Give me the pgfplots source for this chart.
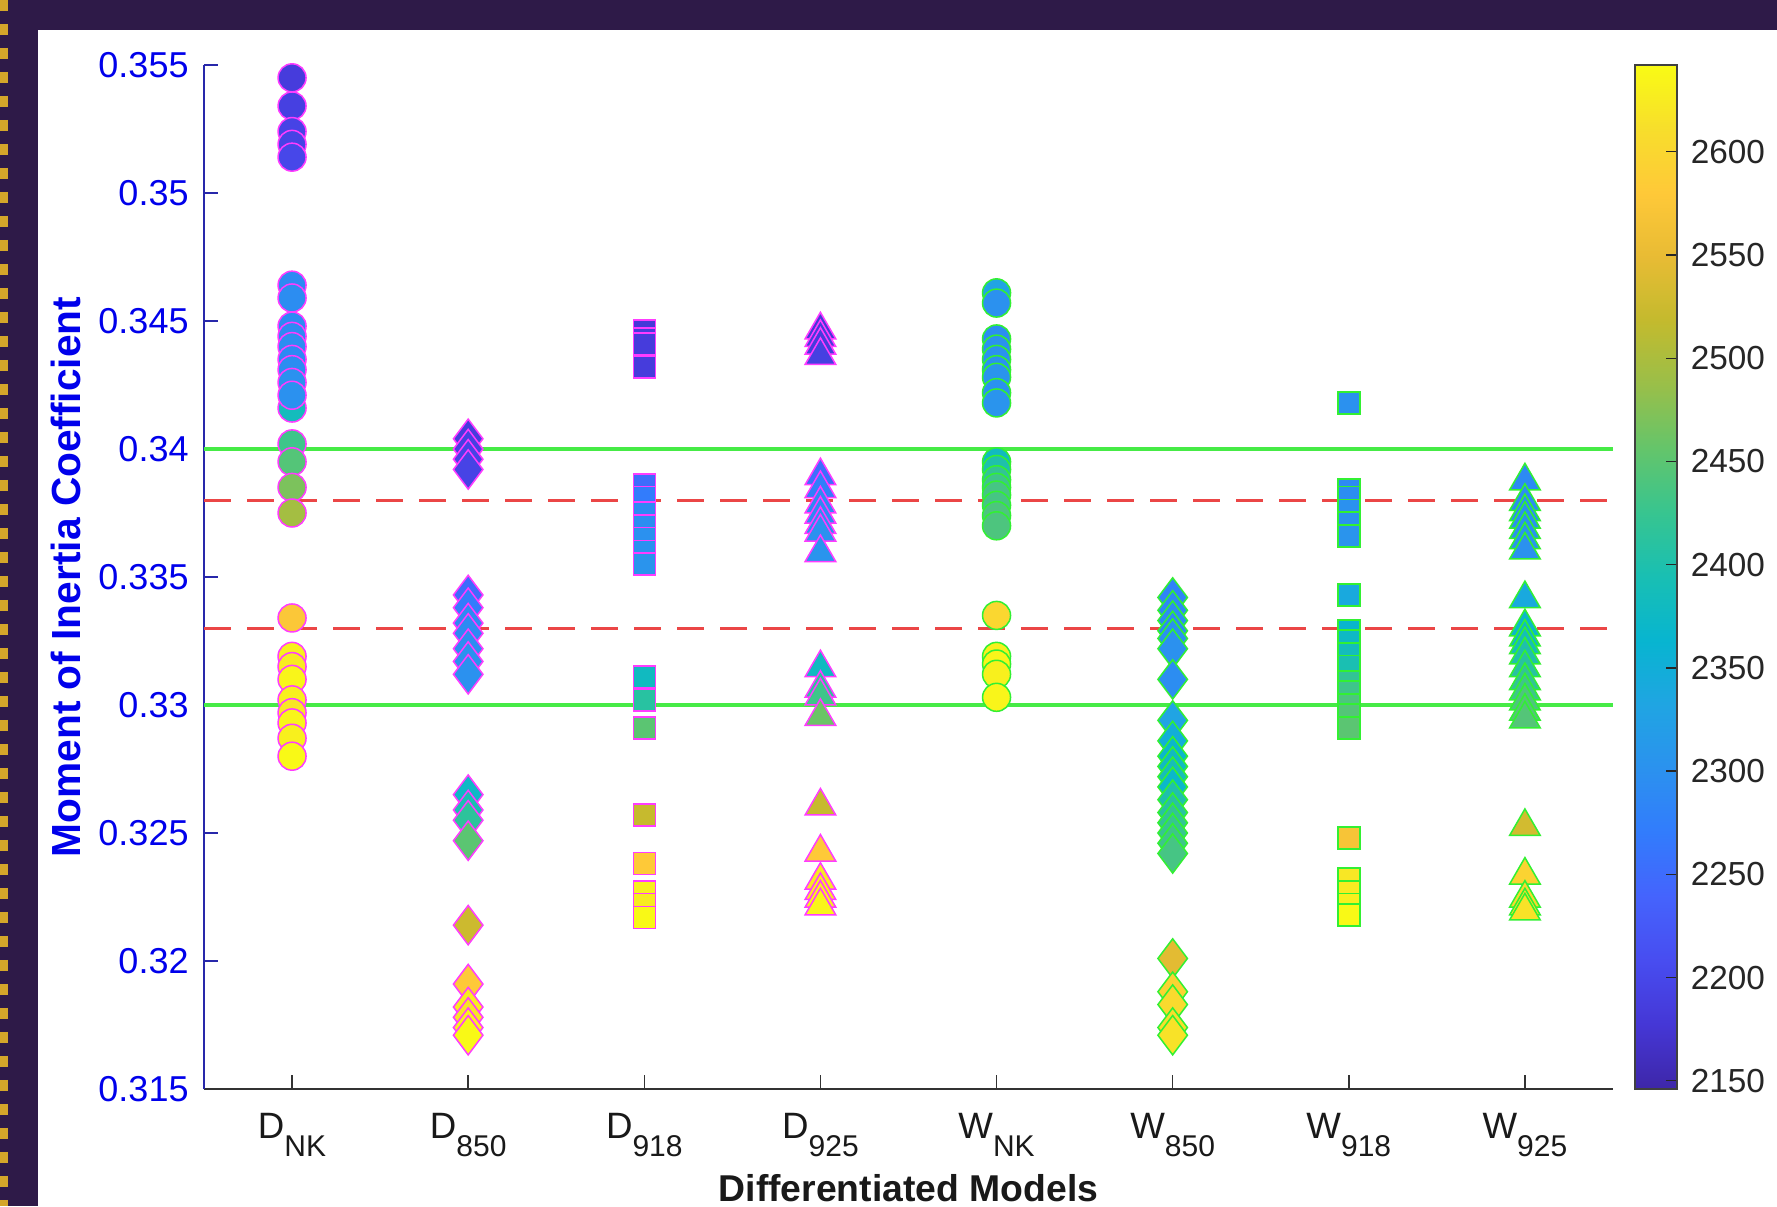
\documentclass[border=0pt]{standalone}
\usepackage{pgfplots}
\pgfplotsset{compat=1.18}
\usepackage{pgfplotstable}
\usepackage{fontspec}
\setmainfont{Liberation Sans}

\definecolor{bgpurple}{RGB}{46,26,72}
\definecolor{dashyellow}{RGB}{212,166,42}
\definecolor{tickblue}{RGB}{0,0,235}
\definecolor{axisblue}{RGB}{40,40,170}
\definecolor{edgemag}{RGB}{255,60,255}
\definecolor{edgegrn}{RGB}{50,240,50}
\definecolor{limeline}{RGB}{70,235,70}
\definecolor{redline}{RGB}{235,70,70}

\newcommand{\sublab}[2]{#1\raisebox{-5.4pt}{\fontsize{9}{9}\selectfont #2}}

\pgfplotstableread{
x y c
0 0.3545 2185
0 0.3534 2190
0 0.3524 2195
0 0.3519 2195
0 0.3514 2200
0 0.3416 2385
0 0.3464 2290
0 0.3459 2295
0 0.3448 2290
0 0.3444 2290
0 0.3440 2295
0 0.3435 2290
0 0.3431 2295
0 0.3426 2300
0 0.3421 2300
0 0.3402 2430
0 0.3395 2445
0 0.3385 2470
0 0.3375 2495
0 0.3334 2575
0 0.3319 2630
0 0.3315 2625
0 0.3310 2635
0 0.3302 2630
0 0.3297 2620
0 0.3293 2635
0 0.3287 2630
0 0.3280 2640
}\dNK

\pgfplotstableread{
x y c
1 0.3404 2185
1 0.3400 2190
1 0.3396 2195
1 0.3392 2195
1 0.3343 2250
1 0.3338 2270
1 0.3332 2290
1 0.3328 2290
1 0.3322 2295
1 0.3317 2300
1 0.3312 2300
1 0.3265 2375
1 0.3259 2395
1 0.3255 2415
1 0.3247 2450
1 0.3214 2525
1 0.3191 2580
1 0.3182 2625
1 0.3178 2615
1 0.3174 2630
1 0.3171 2640
}\dEightFifty

\pgfplotstableread{
x y c
2 0.3446 2180
2 0.3443 2185
2 0.3441 2185
2 0.3432 2185
2 0.3386 2250
2 0.3381 2270
2 0.3375 2290
2 0.3370 2295
2 0.3365 2300
2 0.3360 2300
2 0.3355 2305
2 0.3311 2380
2 0.3302 2410
2 0.3291 2450
2 0.3257 2520
2 0.3238 2580
2 0.3227 2630
2 0.3222 2625
2 0.3217 2640
}\dNineEighteen

\pgfplotstableread{
x y c
3 0.34465 2180
3 0.34435 2185
3 0.34405 2185
3 0.34365 2190
3 0.33895 2255
3 0.33845 2275
3 0.33785 2290
3 0.33745 2290
3 0.33705 2295
3 0.33675 2300
3 0.33595 2305
3 0.33145 2380
3 0.33065 2415
3 0.33035 2430
3 0.32955 2460
3 0.32605 2520
3 0.32425 2580
3 0.32315 2620
3 0.32275 2625
3 0.32245 2630
3 0.32215 2635
}\dNineTwentyFive

\pgfplotstableread{
x y c
4 0.3461 2330
4 0.3457 2300
4 0.3443 2295
4 0.3439 2300
4 0.3435 2300
4 0.3431 2300
4 0.3428 2305
4 0.3422 2300
4 0.3418 2305
4 0.3395 2380
4 0.3392 2400
4 0.3388 2420
4 0.3385 2430
4 0.3382 2435
4 0.3378 2435
4 0.3374 2440
4 0.3370 2440
4 0.3335 2600
4 0.3319 2630
4 0.3316 2635
4 0.3312 2630
4 0.3303 2635
}\wNK

\pgfplotstableread{
x y c
5 0.3342 2280
5 0.3337 2290
5 0.3333 2295
5 0.3329 2290
5 0.3326 2300
5 0.3322 2300
5 0.3310 2295
5 0.3294 2330
5 0.3286 2350
5 0.3280 2370
5 0.3276 2380
5 0.3272 2390
5 0.3268 2370
5 0.3263 2400
5 0.3258 2410
5 0.3254 2420
5 0.3250 2425
5 0.3246 2430
5 0.3242 2435
5 0.3201 2545
5 0.3188 2595
5 0.3183 2605
5 0.3174 2610
5 0.3171 2615
}\wEightFifty

\pgfplotstableread{
x y c
6 0.3418 2300
6 0.3384 2290
6 0.3381 2295
6 0.3376 2300
6 0.3371 2300
6 0.3366 2305
6 0.3343 2340
6 0.3329 2365
6 0.3325 2375
6 0.3320 2385
6 0.3315 2395
6 0.3309 2420
6 0.3305 2430
6 0.3300 2440
6 0.3296 2445
6 0.3291 2450
6 0.3248 2570
6 0.3232 2620
6 0.3227 2625
6 0.3222 2630
6 0.3218 2640
}\wNineEighteen

\pgfplotstableread{
x y c
7 0.33875 2290
7 0.33795 2295
7 0.33755 2300
7 0.33725 2300
7 0.33685 2300
7 0.33645 2305
7 0.33605 2300
7 0.33415 2340
7 0.33305 2370
7 0.33265 2380
7 0.33235 2390
7 0.33195 2400
7 0.33145 2410
7 0.33095 2420
7 0.33055 2430
7 0.33015 2440
7 0.32975 2445
7 0.32945 2445
7 0.32525 2530
7 0.32335 2595
7 0.32245 2605
7 0.32215 2610
7 0.32195 2615
}\wNineTwentyFive

\begin{document}
\begin{tikzpicture}
\useasboundingbox (0,0) rectangle (533.1pt,361.8pt);
\fill[bgpurple] (0,0) rectangle (533.1pt,361.8pt);
\fill[white] (11.5pt,0) rectangle (533.1pt,352.8pt);
\draw[dashyellow, line width=2.3pt, dash pattern=on 3.2pt off 4pt] (1.15pt,361.8pt) -- (1.15pt,0pt);
\begin{axis}[
  at={(61.2pt,35.1pt)}, anchor=south west,
  scale only axis, width=422.7pt, height=307.2pt,
  xmin=-0.5, xmax=7.5, ymin=0.315, ymax=0.355,
  clip=false,
  axis x line*=bottom, axis y line*=left,
  x axis line style={draw=black!80, line width=0.45pt},
  y axis line style={draw=axisblue, line width=0.5pt},
  xtick={0,1,2,3,4,5,6,7},
  xticklabels={\sublab{D}{NK},\sublab{D}{850},\sublab{D}{918},\sublab{D}{925},\sublab{W}{NK},\sublab{W}{850},\sublab{W}{918},\sublab{W}{925}},
  ytick={0.315,0.32,0.325,0.33,0.335,0.34,0.345,0.35,0.355},
  yticklabels={0.315,0.32,0.325,0.33,0.335,0.34,0.345,0.35,0.355},
  tick align=inside, major tick length=4.2pt,
  xtick style={draw=black!80, line width=0.45pt},
  ytick style={draw=axisblue, line width=0.45pt},
  xticklabel style={font=\fontsize{11}{13}\selectfont, text=black!90, yshift=-3.8pt},
  yticklabel style={font=\fontsize{10.8}{13}\selectfont, text=tickblue, xshift=-1.1pt},
  xlabel={Differentiated Models},
  xlabel style={font=\bfseries\fontsize{11.2}{13}\selectfont, text=black!90, at={(axis description cs:0.5,-0.0965)}, anchor=center},
  ylabel={Moment of Inertia Coefficient},
  ylabel style={font=\bfseries\fontsize{12.2}{14}\selectfont, text=tickblue, at={(axis description cs:-0.098,0.5)}, anchor=center},
  colormap={parula}{rgb=(0.2422,0.1504,0.6603) rgb=(0.2706,0.2147,0.8364) rgb=(0.2813,0.3006,0.9414) rgb=(0.2699,0.3892,0.9906) rgb=(0.1963,0.4847,0.9892) rgb=(0.1687,0.5703,0.9359) rgb=(0.1248,0.6459,0.8883) rgb=(0.0297,0.7082,0.8163) rgb=(0.0964,0.7489,0.7029) rgb=(0.2161,0.7719,0.5642) rgb=(0.3909,0.7717,0.4191) rgb=(0.6004,0.7484,0.2873) rgb=(0.7650,0.7304,0.1800) rgb=(0.9096,0.7340,0.2042) rgb=(0.9982,0.7869,0.2216) rgb=(0.9697,0.8709,0.1706) rgb=(0.9769,0.9839,0.0805)},
  point meta min=2146, point meta max=2642,
  colorbar,
  colorbar style={
    at={(parent axis.north east)}, anchor=north west, xshift=-1.94pt,
    scale only axis, width=12.6pt, height=307.2pt,
    ytick={2150,2200,2250,2300,2350,2400,2450,2500,2550,2600},
    yticklabels={2150,2200,2250,2300,2350,2400,2450,2500,2550,2600},
    ytick pos=right, yticklabel pos=right,
    tick align=inside, major tick length=3.3pt,
    ytick style={draw=black!85, line width=0.4pt},
    axis line style={draw=black!75, line width=0.4pt},
    yticklabel style={font=\fontsize{10}{12}\selectfont, text=black!85, xshift=0.6pt},
  },
]
\addplot[scatter, only marks, scatter src=explicit, mark=*, mark size=4.2pt,
  scatter/use mapped color={draw=edgemag, fill=mapped color, line width=0.45pt}]
  table[x=x, y=y, meta=c] {\dNK};
\addplot[scatter, only marks, scatter src=explicit, mark=diamond*, mark size=5.9pt,
  scatter/use mapped color={draw=edgemag, fill=mapped color, line width=0.45pt}]
  table[x=x, y=y, meta=c] {\dEightFifty};
\addplot[scatter, only marks, scatter src=explicit, mark=square*, mark size=3.3pt,
  scatter/use mapped color={draw=edgemag, fill=mapped color, line width=0.45pt}]
  table[x=x, y=y, meta=c] {\dNineEighteen};
\addplot[scatter, only marks, scatter src=explicit, mark=triangle*, mark size=5.3pt,
  scatter/use mapped color={draw=edgemag, fill=mapped color, line width=0.45pt}]
  table[x=x, y=y, meta=c] {\dNineTwentyFive};
\addplot[scatter, only marks, scatter src=explicit, mark=*, mark size=4.2pt,
  scatter/use mapped color={draw=edgegrn, fill=mapped color, line width=0.45pt}]
  table[x=x, y=y, meta=c] {\wNK};
\addplot[scatter, only marks, scatter src=explicit, mark=diamond*, mark size=5.9pt,
  scatter/use mapped color={draw=edgegrn, fill=mapped color, line width=0.45pt}]
  table[x=x, y=y, meta=c] {\wEightFifty};
\addplot[scatter, only marks, scatter src=explicit, mark=square*, mark size=3.3pt,
  scatter/use mapped color={draw=edgegrn, fill=mapped color, line width=0.45pt}]
  table[x=x, y=y, meta=c] {\wNineEighteen};
\addplot[scatter, only marks, scatter src=explicit, mark=triangle*, mark size=5.3pt,
  scatter/use mapped color={draw=edgegrn, fill=mapped color, line width=0.45pt}]
  table[x=x, y=y, meta=c] {\wNineTwentyFive};
\addplot[limeline, line width=1.1pt, no marks] coordinates {(-0.5,0.34) (7.5,0.34)};
\addplot[limeline, line width=1.1pt, no marks] coordinates {(-0.5,0.33) (7.5,0.33)};
\addplot[redline, line width=1pt, no marks, dash pattern=on 8.1pt off 4.8pt] coordinates {(-0.5,0.338) (7.5,0.338)};
\addplot[redline, line width=1pt, no marks, dash pattern=on 8.1pt off 4.8pt] coordinates {(-0.5,0.333) (7.5,0.333)};
\end{axis}
\end{tikzpicture}
\end{document}
